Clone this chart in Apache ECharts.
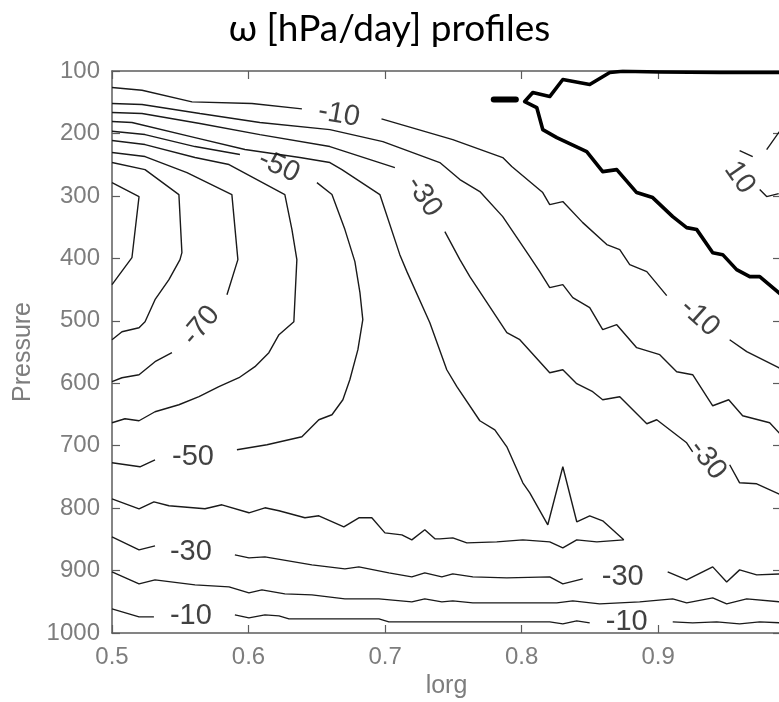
<!DOCTYPE html>
<html>
<head>
<meta charset="utf-8">
<script src="https://cdn.jsdelivr.net/npm/echarts@6/dist/echarts.min.js"></script>
<style>
html,body{margin:0;padding:0;background:#fff;}
#chart{width:779px;height:702px;}
</style>
</head>
<body>
<div id="chart"></div>
<script>
// ---- axis ranges / ticks ----
const xRange = [0.5, 0.99];
const yRange = [100, 1000];
const xTickStep = 0.1;
const yTickStep = 100;

// ---- contour lines, [lorg, pressure] ----
// -10 (upper branch)
const c10a = [[0.5,126.4],[0.522,130.8],[0.5586,149.4],[0.6025,152.1],[0.6391,160.6]];
const c10b = [[0.6974,176.6],[0.7496,209.8],[0.7862,238.6],[0.7928,253.0],[0.8155,294.7],[0.8206,313.9],[0.8302,309.1],[0.8448,342.8],[0.8624,378.0],[0.8719,386.1],[0.8792,410.1],[0.8917,421.3],[0.9063,459.8]];
const c10c = [[0.9524,530.3],[0.9649,549.5],[0.9883,575.2],[0.99,578]];
// -20 (upper branch)
const c20 = [[0.5,152.1],[0.522,153.7],[0.5644,168.1],[0.6083,182.5],[0.6596,193.8],[0.6984,213.0],[0.7401,246.6],[0.7548,273.9],[0.7694,293.1],[0.7862,333.2],[0.806,397.3],[0.8133,421.3],[0.8206,447.0],[0.8302,442.2],[0.8375,463.0],[0.8499,479.0],[0.8594,514.3],[0.8697,506.3],[0.8843,543.1],[0.9012,554.3],[0.9136,581.6],[0.9253,586.4],[0.94,636.1],[0.9517,626.5],[0.9619,652.1],[0.9817,663.3],[0.99,682.6]];
// -30 (upper branch)
const c30a = [[0.5,166.5],[0.522,168.1],[0.5644,184.1],[0.6083,201.8],[0.6596,221.0],[0.7072,254.7]];
const c30b = [[0.7438,357.2],[0.7548,402.1],[0.7621,429.3],[0.7892,519.1],[0.7987,530.3],[0.8206,583.2],[0.8302,578.4],[0.8404,600.8],[0.8521,613.6],[0.8594,626.5],[0.8719,621.6],[0.8917,664.9],[0.899,658.5],[0.9209,695.4],[0.9253,709.8]];
const c30c = [[0.9524,730.6],[0.9597,759.5],[0.9722,761.1],[0.99,778.7]];
// -40 (closed around the core)
const c40 = [[0.5,180.9],[0.5146,182.5],[0.5608,206.6],[0.5974,225.8],[0.6376,238.6],[0.6596,246.6],[0.6684,257.9],[0.6962,297.9],[0.7108,394.1],[0.716,421.3],[0.7328,503.1],[0.7452,578.4],[0.7526,605.6],[0.7694,660.1],[0.7804,674.6],[0.7892,701.8],[0.8009,759.5],[0.806,775.5],[0.8192,826.7],[0.8302,733.8],[0.8404,821.9],[0.8499,812.3],[0.8594,820.3],[0.8748,850.8],[0.8551,854.0],[0.8404,850.8],[0.8302,863.6],[0.8206,854.0],[0.8009,850.8],[0.7818,854.0],[0.7599,855.6],[0.7496,847.6],[0.7401,849.2],[0.7365,849.2],[0.7291,834.7],[0.7196,850.8],[0.7123,842.8],[0.6999,839.6],[0.6903,815.5],[0.6808,815.5],[0.6698,829.9],[0.6515,812.3],[0.6413,815.5],[0.6223,804.3],[0.612,799.5],[0.6003,807.5],[0.5805,794.7],[0.5681,801.1],[0.5417,796.3],[0.5307,789.9],[0.5198,801.1],[0.5,785.1]];
// -50
const c50a = [[0.5,196.5],[0.5242,201.8],[0.5608,221.0],[0.5937,233.8]];
const c50b = [[0.6501,278.7],[0.6611,297.9],[0.6706,354.0],[0.6779,405.3],[0.6816,455.0],[0.6837,498.2],[0.6801,546.3],[0.6742,594.4],[0.6691,626.5],[0.6611,650.5],[0.6515,658.5],[0.6391,685.8],[0.6135,698.6],[0.5915,706.6]];
const c50c = [[0.5315,722.6],[0.5205,733.8],[0.5,727.4]];
// -60
const c60 = [[0.5,211.4],[0.5242,217.8],[0.5608,238.6],[0.5857,249.8],[0.6266,297.9],[0.6318,354.0],[0.6354,402.1],[0.6332,501.5],[0.6223,522.3],[0.6149,551.1],[0.6047,573.5],[0.593,591.2],[0.5783,605.6],[0.5637,621.6],[0.549,634.5],[0.5315,645.7],[0.5198,660.1],[0.5095,656.9],[0.5,663.3]];
// -70
const c70a = [[0.5,230.6],[0.5242,237.0],[0.5549,262.7],[0.5878,297.9],[0.5922,402.1],[0.5842,458.2]];
const c70b = [[0.5439,551.1],[0.5315,565.5],[0.5198,586.4],[0.5073,591.2],[0.5,597.6]];
// -80
const c80 = [[0.5,246.6],[0.5242,257.9],[0.549,297.9],[0.5512,390.9],[0.5498,402.1],[0.5417,434.1],[0.5315,466.2],[0.5242,501.5],[0.5198,511.1],[0.5073,517.5],[0.5,530.3]];
// -90
const c90 = [[0.5,278.7],[0.5198,301.1],[0.5146,399.0],[0.5,442.2]];
// lower layer contours
const b30a = [[0.5,846.0],[0.5198,866.8],[0.5315,860.4]];
const b30b = [[0.59,874.9],[0.6003,879.7],[0.612,878.1],[0.6464,890.9],[0.6706,897.3],[0.6808,894.1],[0.7028,903.7],[0.7196,910.1],[0.7291,903.7],[0.7416,910.1],[0.7496,905.3],[0.7643,910.1],[0.7892,911.7],[0.8206,910.1],[0.8302,921.4],[0.8448,913.4]];
const b30c = [[0.907,902.1],[0.9209,915.0],[0.94,894.1],[0.9502,918.2],[0.9597,898.9],[0.9722,906.9],[0.99,905.3]];
const b20 = [[0.5,902.1],[0.5198,921.4],[0.5315,915.0],[0.5608,923.0],[0.5857,926.2],[0.6003,935.8],[0.6098,931.0],[0.6266,937.4],[0.6464,939.0],[0.6706,945.4],[0.6955,945.4],[0.7196,950.2],[0.7291,945.4],[0.7416,950.2],[0.7496,948.6],[0.7643,951.8],[0.8258,951.8],[0.8375,948.6],[0.8572,953.4],[0.8865,950.2],[0.9107,945.4],[0.9209,951.8],[0.94,943.8],[0.9502,953.4],[0.9649,945.4],[0.99,950.2]];
const b10a = [[0.5,961.4],[0.5198,974.2],[0.5307,974.2]];
const b10b = [[0.59,971.0],[0.6003,975.8],[0.612,971.0],[0.6223,972.6],[0.6296,977.4],[0.6955,977.4],[0.7028,982.2],[0.8206,982.2],[0.8302,985.4],[0.8404,980.6],[0.8499,983.8]];
const b10c = [[0.9107,982.2],[0.9253,983.8],[0.9429,982.2],[0.9597,985.4],[0.9744,982.2],[0.99,983.8]];
// zero contour (thick)
const c0 = [[0.99,102.4],[0.9451,102.4],[0.9012,101.5],[0.8741,100.5],[0.8646,102.4],[0.8499,121.6],[0.8302,113.6],[0.8206,140.9],[0.8082,134.5],[0.8023,148.9],[0.8111,158.5],[0.8155,193.8],[0.8258,206.6],[0.8477,229.0],[0.8594,261.1],[0.8697,257.9],[0.8843,294.7],[0.896,302.7],[0.9107,333.2],[0.9209,350.8],[0.9283,354.0],[0.94,390.9],[0.9473,394.1],[0.9575,418.1],[0.9671,429.3],[0.9744,429.3],[0.99,458.2]];
const c0blob = [[0.7796,145.7],[0.7958,145.7]];
// +10 fragments
const p10a = [[0.9795,225.8],[0.9883,198.6],[0.99,195.4]];
const p10b = [[0.9597,227.4],[0.9693,237.0]];
const p10c = [[0.9744,289.9],[0.9795,301.1],[0.9883,296.3]];

// ---- contour labels: [lorg, pressure, text, rotation(deg)] ----
const contourLabels = [
  [0.6662,169.7,'-10',-10],
  [0.6223,253.0,'-50',-25],
  [0.7284,301.1,'-30',-57],
  [0.5652,507.9,'-70',50],
  [0.5593,717.8,'-50',0],
  [0.5578,870.1,'-30',0],
  [0.5578,972.6,'-10',0],
  [0.9305,495.0,'-10',-42],
  [0.9363,722.6,'-30',-52],
  [0.8741,910.1,'-30',0],
  [0.877,982.2,'-10',0],
  [0.9597,270.7,'10',-55]
];

const thin = [c10a,c10b,c10c,c20,c30a,c30b,c30c,c40,c50a,c50b,c50c,c60,c70a,c70b,c80,c90,b30a,b30b,b30c,b20,b10a,b10b,b10c,p10a,p10b,p10c];

const series = [];
thin.forEach(d => series.push({
  type:'line', data:d, symbol:'none', silent:true,
  lineStyle:{color:'#1a1a1a', width:1.4}, z:2
}));
series.push({type:'line', data:c0, symbol:'none', silent:true, lineStyle:{color:'#000', width:3.6, join:'round'}, z:3});
series.push({type:'line', data:c0blob, symbol:'none', silent:true, lineStyle:{color:'#000', width:6, cap:'round'}, z:3});
series.push({
  type:'scatter', symbolSize:0, silent:true, z:4,
  data: contourLabels.map(l => ({
    value:[l[0], l[1]],
    label:{show:true, position:'inside', formatter:l[2], rotate:l[3],
      fontFamily:'Liberation Sans', fontSize:29, color:'#111'}
  }))
});

const axisGray = '#5c5c5c';
const labelGray = '#7d7d7d';
const chart = echarts.init(document.getElementById('chart'), null, {renderer:'canvas'});
chart.setOption({
  animation:false,
  backgroundColor:'#fff',
  title:{
    text:'ω [hPa/day] profiles', left:'center', top:6,
    textStyle:{fontFamily:'Lato', fontWeight:'normal', fontSize:37, color:'#000'}
  },
  grid:{left:112, right:-2, top:71, bottom:69, containLabel:false, outerBoundsMode:'none'},
  xAxis:[{
    type:'value', min:xRange[0], max:xRange[1], interval:xTickStep, position:'bottom',
    name:'lorg', nameLocation:'middle', nameGap:40,
    nameTextStyle:{fontFamily:'Liberation Sans', fontSize:25, color:labelGray},
    axisLine:{show:true, lineStyle:{color:axisGray, width:1.5}},
    axisTick:{show:true, inside:true, length:8, lineStyle:{color:axisGray, width:1.2}},
    axisLabel:{margin:12, showMaxLabel:false, fontFamily:'Liberation Sans', fontSize:24, color:labelGray,
      formatter:v => v.toFixed(1)},
    splitLine:{show:false}
  },{
    type:'value', min:xRange[0], max:xRange[1], interval:xTickStep, position:'top',
    axisLine:{show:true, lineStyle:{color:axisGray, width:1.5}},
    axisTick:{show:true, inside:true, length:8, lineStyle:{color:axisGray, width:1.2}},
    axisLabel:{show:false}, splitLine:{show:false}
  }],
  yAxis:[{
    type:'value', inverse:true, min:yRange[0], max:yRange[1], interval:yTickStep, position:'left',
    name:'Pressure', nameLocation:'middle', nameGap:76, nameRotate:90,
    nameTextStyle:{fontFamily:'Liberation Sans', fontSize:25, color:labelGray},
    axisLine:{show:true, lineStyle:{color:axisGray, width:1.5}},
    axisTick:{show:true, inside:true, length:8, lineStyle:{color:axisGray, width:1.2}},
    axisLabel:{margin:12, fontFamily:'Liberation Sans', fontSize:24, color:labelGray,
      formatter:v => String(v)},
    splitLine:{show:false}
  },{
    type:'value', inverse:true, min:yRange[0], max:yRange[1], interval:yTickStep, position:'right',
    axisLine:{show:true, lineStyle:{color:axisGray, width:1.5}},
    axisTick:{show:true, inside:true, length:8, lineStyle:{color:axisGray, width:1.2}},
    axisLabel:{show:false}, splitLine:{show:false}
  }],
  series: series
});
</script>
</body>
</html>
